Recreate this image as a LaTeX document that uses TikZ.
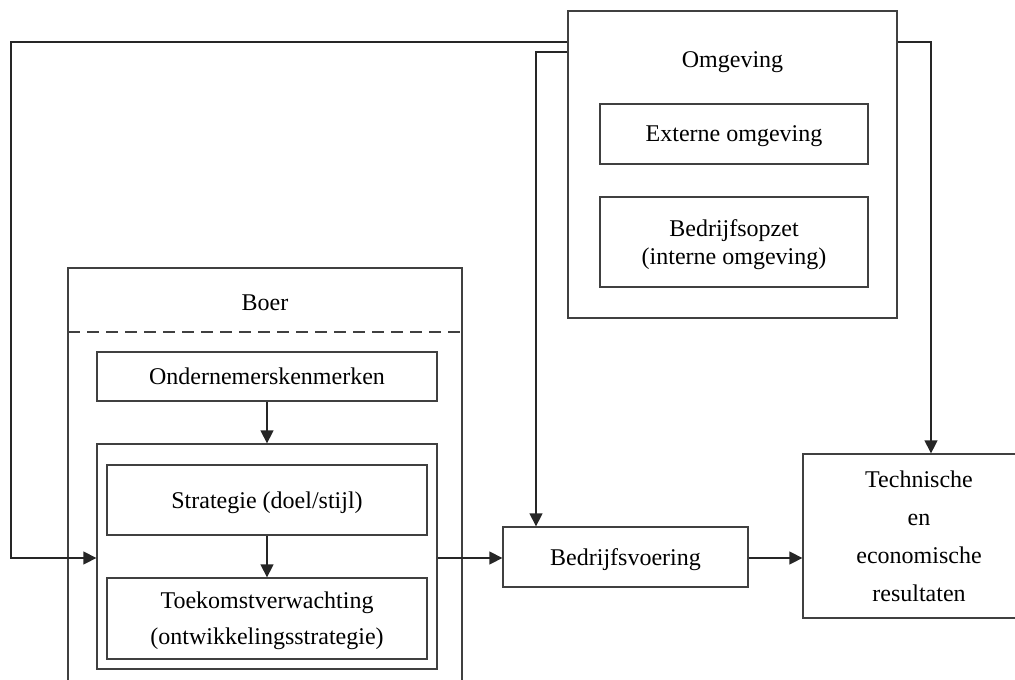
\documentclass[tikz,border=0pt]{standalone}
\usepackage{fontspec}
\setmainfont{Liberation Serif}
\usetikzlibrary{arrows.meta}
\definecolor{frame}{HTML}{404040}

\begin{document}
\begin{tikzpicture}[x=0.5pt,y=-0.5pt,
  box/.style={rectangle, draw=frame, line width=0.65pt, inner sep=0pt, text depth=-2pt, font=\fontsize{12}{14}\selectfont, align=center},
  title/.style={inner sep=0pt, font=\fontsize{12}{14}\selectfont},
  dashline/.style={draw=frame, line width=0.65pt, dash pattern=on 6pt off 3.5pt},
  arrow/.style={-{Triangle[length=6.5pt,width=6.5pt]}, line width=0.65pt, color=black!85}
]
\useasboundingbox (0,0) rectangle (1015,679);
\clip (0,0) rectangle (1015,679);
\node[box, minimum width=164.5pt, minimum height=153.5pt] (omg) at (732.5,164.5) {};
\node[title] (omgtitle) at (732.5,62) {Omgeving};
\node[box, minimum width=134pt, minimum height=30pt] (extern) at (734,134) {Externe omgeving};
\node[box, minimum width=134pt, minimum height=45pt] (opzet) at (734,242) {Bedrijfsopzet\\(interne omgeving)};
\node[minimum width=197pt, minimum height=211pt, inner sep=0pt, outer sep=0pt] (boerbox) at (265,479) {};
\draw[draw=frame, line width=0.65pt] (boerbox.south west) |- (boerbox.north east) -- (boerbox.south east);
\node[title] (boer) at (265,303) {Boer};
\coordinate (dashl) at (68,332);
\coordinate (dashr) at (462,332);
\draw[dashline] (dashl) -- (dashr);
\node[box, minimum width=170pt, minimum height=24.5pt] (onder) at (267,376.5) {Ondernemerskenmerken};
\node[box, minimum width=170pt, minimum height=112.5pt] (group) at (267,556.5) {};
\node[box, minimum width=160pt, minimum height=35pt] (strat) at (267,500) {Strategie (doel/stijl)};
\node[box, minimum width=160pt, minimum height=40.5pt] (toek) at (267,618.5) {Toekomstverwachting\\[4pt](ontwikkelingsstrategie)};
\node[box, minimum width=122.5pt, minimum height=30pt] (bedr) at (625.5,557) {Bedrijfsvoering};
\node[box, minimum width=116pt, minimum height=82pt, text depth=-6pt] (tech) at (919,536) {Technische\\[5pt]en\\[5pt]economische\\[5pt]resultaten};
\coordinate (lcorner) at (11,42);
\coordinate (lbottom) at (11,558);
\coordinate (mcorner) at (536,52);
\coordinate (rcorner) at (931,42);
\draw[arrow] (omg.west |- lcorner) -- (lcorner) -- (lbottom) -- (group.west |- lbottom);
\draw[arrow] (omg.west |- mcorner) -- (mcorner) -- (mcorner |- bedr.north);
\draw[arrow] (omg.east |- rcorner) -- (rcorner) -- (rcorner |- tech.north);
\draw[arrow] (onder) -- (group);
\draw[arrow] (strat) -- (toek);
\draw[arrow] (group.east |- lbottom) -- (bedr.west |- lbottom);
\draw[arrow] (bedr.east |- lbottom) -- (tech.west |- lbottom);
\end{tikzpicture}
\end{document}
